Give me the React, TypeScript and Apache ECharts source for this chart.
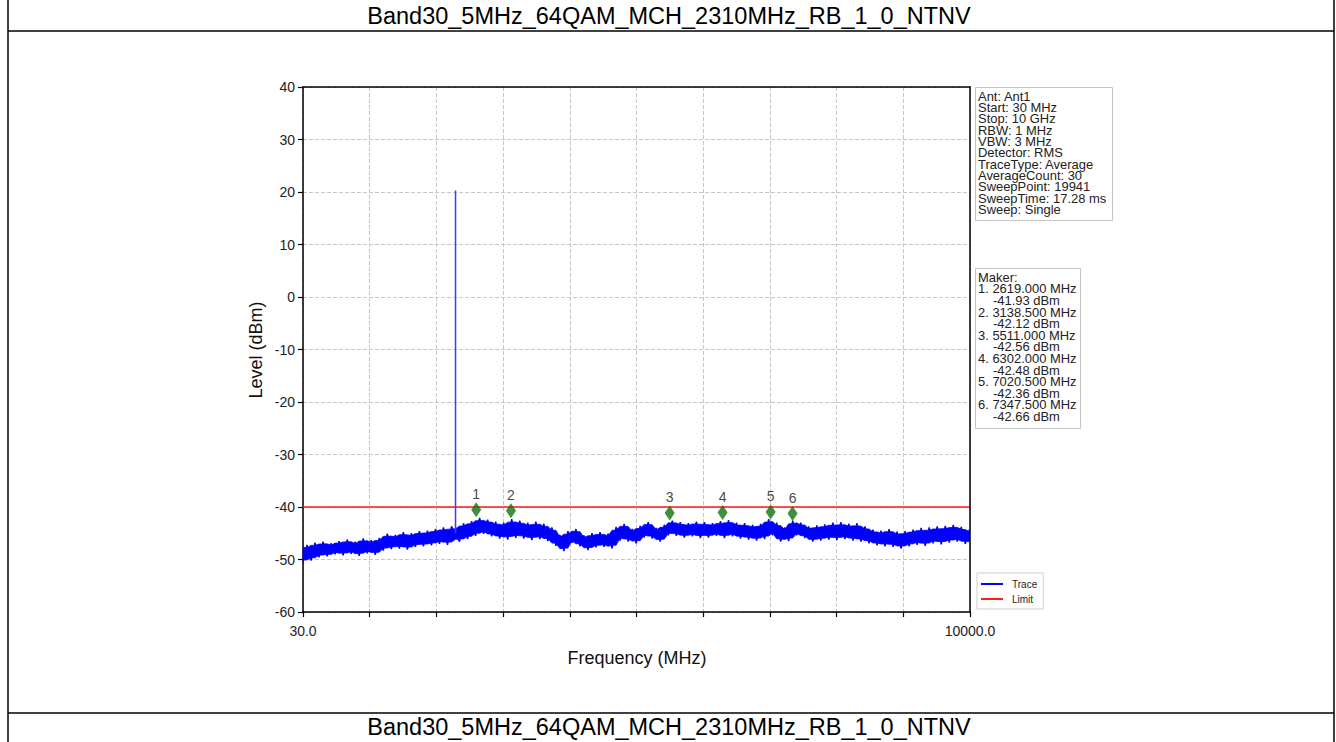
import React, { useEffect, useRef } from "react";
import * as echarts from "echarts";

const TITLE = "Band30_5MHz_64QAM_MCH_2310MHz_RB_1_0_NTNV";
const FONT = 'Arial, "Liberation Sans", sans-serif';

// sweep grid of the trace (MHz) and levels (dBm)
const traceStartMHz = 30;
const traceStepMHz = 60;
const traceLevel = [
  -50.6, -47.2, -50.2, -46.8, -49.6, -46.6, -49.4, -46.9, -49.0, -46.5,
  -49.2, -46.2, -48.9, -46.6, -49.3, -46.0, -48.8, -46.3, -49.1, -45.9,
  -48.3, -45.1, -48.0, -45.3, -47.9, -44.8, -48.1, -45.0, -47.6, -44.6,
  -47.5, -44.5, -47.3, -44.2, -47.0, -43.9, -47.2, -43.7, -45.2, -46.6,
  -43.1, -46.1, -42.7, -45.5, -42.1, -45.1, -42.4, -45.6, -42.8, -46.0,
  -43.0, -46.2, -42.3, -45.9, -42.6, -46.0, -43.0, -46.3, -42.8, -46.1,
  -43.2, -46.5, -43.9, -47.4, -45.3, -48.4, -44.6, -46.8, -44.2, -47.5,
  -45.4, -48.2, -45.0, -47.7, -44.8, -47.6, -45.1, -47.9, -43.8, -46.4,
  -43.2, -46.6, -44.2, -46.9, -43.6, -45.8, -42.9, -46.0, -44.0, -46.6,
  -43.4, -45.4, -42.6, -45.5, -42.9, -45.8, -43.1, -45.6, -42.8, -45.9,
  -42.9, -45.8, -43.1, -45.5, -42.7, -45.9, -42.5, -45.6, -43.0, -46.0,
  -43.1, -46.2, -43.4, -46.4, -43.2, -46.1, -42.3, -45.4, -43.0, -46.6,
  -43.9, -46.5, -42.6, -45.4, -43.0, -45.9, -43.7, -46.6, -43.5, -46.4,
  -43.3, -46.2, -43.0, -46.3, -42.9, -46.1, -43.2, -46.4, -43.1, -46.6,
  -43.7, -46.9, -44.3, -47.3, -44.5, -47.5, -44.2, -47.6, -44.7, -47.9,
  -44.6, -47.5, -44.3, -47.2, -44.0, -47.4, -43.9, -46.9, -43.7, -47.1,
  -43.6, -46.8, -43.4, -46.6, -43.8, -47.0, -44.3,
];

// carrier spike
const spikeFreqMHz = 2310;
const spikeLevels = [-45.0, 20.3];

// markers
const markerFreq = [2619.0, 3138.5, 5511.0, 6302.0, 7020.5, 7347.5];
const markerLevel = [-41.93, -42.12, -42.56, -42.48, -42.36, -42.66];

const limitLevel = -40;

const freqMin = 30;
const freqMax = 10000;
const levelMin = -60;
const levelMax = 40;
const levelStep = 10;
const xDivisions = 10;

const infoLines = [
  "Ant: Ant1",
  "Start: 30 MHz",
  "Stop: 10 GHz",
  "RBW: 1 MHz",
  "VBW: 3 MHz",
  "Detector: RMS",
  "TraceType: Average",
  "AverageCount: 30",
  "SweepPoint: 19941",
  "SweepTime: 17.28 ms",
  "Sweep: Single",
];

const BLUE = "#0000ff";

export default function App() {
  const ref = useRef<HTMLDivElement>(null);

  useEffect(() => {
    if (!ref.current) return;
    const chart = echarts.init(ref.current, undefined, { renderer: "svg" });

    const fx = (i: number) => traceStartMHz + i * traceStepMHz;
    const traceData = traceLevel.map((v, i) => [fx(i), v]);
    const n = traceLevel.length;
    // band rows: [freq, lower, upper] taken slightly inside the local min/max of the trace
    const bandRows = traceLevel.map((v, i) => {
      const w = [traceLevel[Math.max(0, i - 1)], v, traceLevel[Math.min(n - 1, i + 1)]];
      const lo = Math.min(...w);
      const hi = Math.max(...w);
      const inset = (hi - lo) * 0.15;
      return [fx(i), lo + inset, hi - inset];
    });
    const spikeData = spikeLevels.map((v) => [spikeFreqMHz, v]);
    const markerData = markerFreq.map((f, i) => ({
      name: String(i + 1),
      value: [f, markerLevel[i]],
    }));

    const graphics: any[] = [];
    const frame = { stroke: "#000", lineWidth: 1.5 };
    graphics.push({ type: "line", shape: { x1: 8, y1: 0, x2: 8, y2: 742 }, style: frame, silent: true });
    graphics.push({ type: "line", shape: { x1: 1334, y1: 0, x2: 1334, y2: 742 }, style: frame, silent: true });
    graphics.push({ type: "line", shape: { x1: 8, y1: 31, x2: 1334, y2: 31 }, style: frame, silent: true });
    graphics.push({ type: "line", shape: { x1: 8, y1: 713, x2: 1334, y2: 713 }, style: frame, silent: true });
    [16, 727].forEach((y) =>
      graphics.push({
        type: "text",
        x: 669,
        y,
        style: { text: TITLE, font: `23.5px ${FONT}`, fill: "#000", textAlign: "center", textVerticalAlign: "middle" },
      })
    );
    graphics.push({
      type: "text",
      x: 256,
      y: 350,
      rotation: Math.PI / 2,
      style: { text: "Level (dBm)", font: `18px ${FONT}`, fill: "#111", textAlign: "center", textVerticalAlign: "middle" },
    });
    graphics.push({
      type: "text",
      x: 637,
      y: 658,
      style: { text: "Frequency (MHz)", font: `18px ${FONT}`, fill: "#111", textAlign: "center", textVerticalAlign: "middle" },
    });
    // info box
    graphics.push({
      type: "rect",
      shape: { x: 975.5, y: 87.5, width: 137, height: 133 },
      style: { fill: "#fff", stroke: "#c4c4c4", lineWidth: 1 },
    });
    infoLines.forEach((t, k) => {
      graphics.push({
        type: "text",
        x: 978,
        y: 91 + k * 11.3,
        style: { text: t, font: `12px ${FONT}`, fill: "#222", textVerticalAlign: "top" },
        scaleX: 1.08,
      });
    });
    // marker box
    graphics.push({
      type: "rect",
      shape: { x: 975.5, y: 268.5, width: 105, height: 160 },
      style: { fill: "#fff", stroke: "#c4c4c4", lineWidth: 1 },
    });
    const mLines: { t: string; dx: number }[] = [{ t: "Maker:", dx: 0 }];
    markerFreq.forEach((f, i) => {
      mLines.push({ t: `${i + 1}. ${f.toFixed(3)} MHz`, dx: 0 });
      mLines.push({ t: `${markerLevel[i].toFixed(2)} dBm`, dx: 15 });
    });
    mLines.forEach((l, k) => {
      graphics.push({
        type: "text",
        x: 978 + l.dx,
        y: 272 + k * 11.6,
        style: { text: l.t, font: `12px ${FONT}`, fill: "#222", textVerticalAlign: "top" },
        scaleX: 1.08,
      });
    });

    const splitStyle = { color: "#c6c6c6", type: [4, 2], width: 1 };
    const blackLine = { show: true, onZero: false, lineStyle: { color: "#000", width: 1.5 } };

    const option: any = {
      animation: false,
      backgroundColor: "#fff",
      textStyle: { fontFamily: FONT },
      grid: {
        left: 303,
        top: 87,
        width: 667,
        height: 525,
        show: false,
      },
      legend: {
        data: [
          { name: "Trace", icon: "rect" },
          { name: "Limit", icon: "rect" },
        ],
        orient: "vertical",
        left: 977,
        top: 573,
        itemWidth: 22,
        itemHeight: 2,
        itemGap: 5,
        padding: [6, 6, 5, 4],
        backgroundColor: "#fff",
        borderColor: "#cfcfcf",
        borderWidth: 1,
        textStyle: { fontSize: 10, color: "#222", fontFamily: FONT, padding: [0, 0, 0, 4] },
      },
      xAxis: [
        {
          type: "value",
          min: freqMin,
          max: freqMax,
          position: "bottom",
          axisLine: blackLine,
          axisTick: { show: false },
          splitLine: { show: false },
          axisLabel: {
            show: true,
            showMinLabel: true,
            showMaxLabel: true,
            fontSize: 14,
            color: "#222",
            margin: 12,
            formatter: (v: number) =>
              v === freqMin ? freqMin.toFixed(1) : v === freqMax ? freqMax.toFixed(1) : "",
          },
          z: 6,
        },
        {
          type: "value",
          min: 0,
          max: xDivisions,
          interval: 1,
          position: "bottom",
          axisLine: { show: false, onZero: false },
          axisTick: { show: true, inside: false, length: 5, lineStyle: { color: "#000", width: 1.2 } },
          axisLabel: { show: false },
          splitLine: { show: true, lineStyle: splitStyle },
        },
        {
          type: "value",
          min: 0,
          max: xDivisions,
          position: "top",
          axisLine: blackLine,
          axisTick: { show: false },
          axisLabel: { show: false },
          splitLine: { show: false },
          z: 6,
        },
      ],
      yAxis: [
        {
          type: "value",
          min: levelMin,
          max: levelMax,
          interval: levelStep,
          position: "left",
          axisLine: blackLine,
          axisTick: { show: true, inside: false, length: 5, lineStyle: { color: "#000", width: 1.2 } },
          axisLabel: { fontSize: 14, color: "#222", margin: 8 },
          splitLine: { show: true, lineStyle: splitStyle },
        },
        {
          type: "value",
          min: levelMin,
          max: levelMax,
          interval: levelStep,
          position: "right",
          axisLine: blackLine,
          axisTick: { show: false },
          axisLabel: { show: false },
          splitLine: { show: false },
          z: 6,
        },
      ],
      series: [
        {
          name: "Limit",
          type: "line",
          xAxisIndex: 0,
          yAxisIndex: 0,
          data: [
            [freqMin, limitLevel],
            [freqMax, limitLevel],
          ],
          symbol: "none",
          lineStyle: { color: "#ff1a1a", width: 1.6 },
          itemStyle: { color: "#ff1a1a" },
          z: 2,
        },
        {
          name: "Trace",
          type: "custom",
          xAxisIndex: 0,
          yAxisIndex: 0,
          data: bandRows,
          encode: { x: 0, y: [1, 2] },
          itemStyle: { color: BLUE },
          renderItem: (params: any, api: any) => {
            if (params.dataIndex !== 0) return null;
            const upper = bandRows.map((r) => api.coord([r[0], r[2]]));
            const lower = bandRows.map((r) => api.coord([r[0], r[1]])).reverse();
            return {
              type: "polygon",
              shape: { points: upper.concat(lower) },
              style: { fill: BLUE, stroke: BLUE, lineWidth: 0.8 },
            };
          },
          z: 3,
          silent: true,
        },
        {
          name: "Trace",
          type: "line",
          xAxisIndex: 0,
          yAxisIndex: 0,
          data: traceData,
          symbol: "none",
          lineStyle: { color: BLUE, width: 1.4 },
          itemStyle: { color: BLUE },
          z: 4,
        },
        {
          name: "Trace",
          type: "line",
          xAxisIndex: 0,
          yAxisIndex: 0,
          data: spikeData,
          symbol: "none",
          lineStyle: { color: "#3b3bff", width: 1.5 },
          itemStyle: { color: BLUE },
          z: 4,
        },
        {
          name: "Marker",
          type: "scatter",
          xAxisIndex: 0,
          yAxisIndex: 0,
          data: markerData,
          symbol: "diamond",
          symbolSize: [10, 15],
          symbolOffset: [0, "-50%"],
          itemStyle: { color: "#0f730f" },
          label: {
            show: true,
            position: "top",
            distance: 1,
            formatter: (p: any) => p.name,
            fontSize: 14,
            color: "#111",
            fontFamily: FONT,
          },
          z: 5,
        },
      ],
      graphic: graphics,
    };

    chart.setOption(option);
    return () => chart.dispose();
  }, []);

  return (
    <div
      ref={ref}
      style={{ position: "absolute", left: 0, top: 0, width: 1336, height: 742, background: "#fff" }}
    />
  );
}
